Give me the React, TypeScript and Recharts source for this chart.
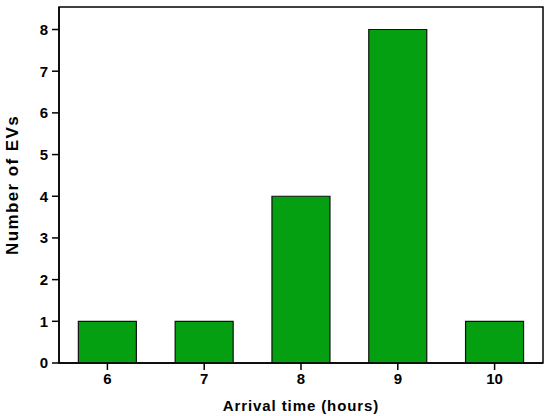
import React from 'react';
import { BarChart, Bar, XAxis, YAxis, ReferenceArea } from 'recharts';

const arrivalHours = ['6', '7', '8', '9', '10'];
const evCounts = [1, 1, 4, 8, 1];
const yTicks = [0, 1, 2, 3, 4, 5, 6, 7, 8];
const yMax = 8.54;

const chartData = arrivalHours.map((hour, i) => ({ hour, count: evCounts[i] }));

const font = '"Liberation Sans", Arial, sans-serif';
const tickStyle = { fontSize: 15, fontWeight: 700, fill: '#000', fontFamily: font };

export default function App() {
  return (
    <div style={{ position: 'absolute', left: 0, top: 0, width: 550, height: 416, background: '#fff' }}>
      <BarChart
        width={550}
        height={416}
        data={chartData}
        margin={{ top: 7, right: 7, left: 0, bottom: 0 }}
        barCategoryGap="20%"
      >
        <XAxis
          dataKey="hour"
          height={53}
          stroke="#000"
          strokeWidth={1.5}
          tickSize={7}
          tickMargin={3}
          tick={tickStyle}
          tickLine={{ stroke: '#000', strokeWidth: 1.5 }}
          label={{
            value: 'Arrival time (hours)',
            position: 'insideBottom',
            offset: 5,
            style: { fontSize: 15, fontWeight: 700, fill: '#000', fontFamily: font, letterSpacing: 0.9 },
          }}
        />
        <YAxis
          width={59}
          domain={[0, yMax]}
          ticks={yTicks}
          allowDataOverflow
          stroke="#000"
          strokeWidth={1.5}
          tickSize={7}
          tickMargin={4}
          tick={tickStyle}
          tickLine={{ stroke: '#000', strokeWidth: 1.5 }}
          label={{
            value: 'Number of EVs',
            angle: -90,
            position: 'insideLeft',
            offset: 12,
            textAnchor: 'middle',
            style: { fontSize: 17, fontWeight: 700, fill: '#000', fontFamily: font, textAnchor: 'middle', letterSpacing: 1.4 },
          }}
        />
        <ReferenceArea y1={0} y2={yMax} fill="none" stroke="#000" strokeWidth={1.5} ifOverflow="extendDomain" />
        <Bar dataKey="count" fill="#05a012" stroke="#111" strokeWidth={1.2} isAnimationActive={false} />
      </BarChart>
    </div>
  );
}
